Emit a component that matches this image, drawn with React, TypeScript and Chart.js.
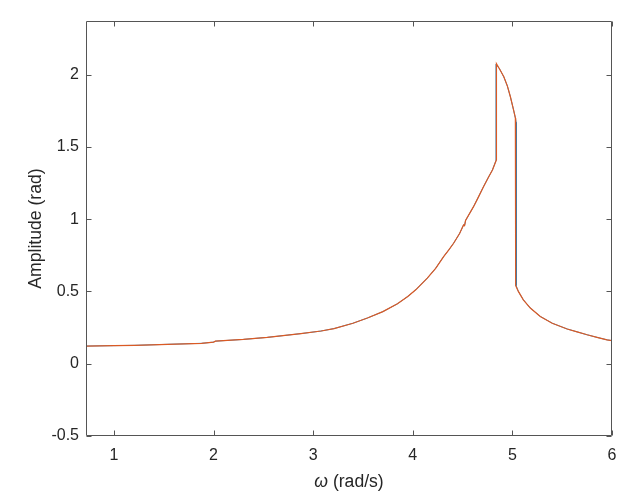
import React, { useEffect, useRef } from "react";
import { Chart, registerables } from "chart.js";

Chart.register(...registerables);

// Blue series (sweep 1)
const omegaBlue = [
  0.72, 1.0, 1.21, 1.54, 1.88, 2.0, 2.02, 2.3, 2.54, 2.877, 3.08, 3.21, 3.4, 3.545, 3.7, 3.846, 3.95,
  4.03, 4.146, 4.23, 4.31, 4.36, 4.41, 4.47, 4.51, 4.52, 4.53, 4.61, 4.65, 4.71, 4.76, 4.8, 4.835,
  4.835, 4.87, 4.914, 4.95, 4.98, 5.01, 5.03, 5.038, 5.038, 5.06, 5.11, 5.18, 5.28, 5.4, 5.55, 5.65,
  5.75, 5.85, 5.95, 6.0,
];
const ampBlue = [
  0.122, 0.125, 0.127, 0.134, 0.141, 0.149, 0.156, 0.168, 0.182, 0.208, 0.226, 0.243, 0.28, 0.316, 0.36,
  0.414, 0.465, 0.511, 0.592, 0.66, 0.741, 0.785, 0.833, 0.9, 0.96, 0.955, 0.99, 1.086, 1.14, 1.224,
  1.29, 1.34, 1.405, 2.07, 2.04, 1.984, 1.92, 1.846, 1.76, 1.7, 1.67, 0.54, 0.5, 0.442, 0.385, 0.327,
  0.28, 0.24, 0.22, 0.2, 0.182, 0.165, 0.159,
];

// Orange series (sweep 2)
const omegaOrange = [
  0.72, 1.0, 1.21, 1.54, 1.88, 2.0, 2.02, 2.3, 2.54, 2.877, 3.08, 3.21, 3.4, 3.545, 3.7, 3.846, 3.95,
  4.03, 4.146, 4.23, 4.31, 4.36, 4.41, 4.47, 4.51, 4.52, 4.53, 4.61, 4.65, 4.71, 4.76, 4.8, 4.84,
  4.84, 4.87, 4.914, 4.95, 4.98, 5.01, 5.03, 5.033, 5.033, 5.06, 5.11, 5.18, 5.28, 5.4, 5.55, 5.65,
  5.75, 5.85, 5.95, 6.0,
];
const ampOrange = [
  0.122, 0.125, 0.127, 0.134, 0.141, 0.149, 0.156, 0.168, 0.182, 0.208, 0.226, 0.243, 0.28, 0.316, 0.36,
  0.414, 0.465, 0.511, 0.592, 0.66, 0.741, 0.785, 0.833, 0.9, 0.96, 0.955, 0.99, 1.086, 1.14, 1.224,
  1.29, 1.34, 1.41, 2.075, 2.04, 1.984, 1.92, 1.846, 1.76, 1.7, 1.68, 0.54, 0.5, 0.442, 0.385, 0.327,
  0.28, 0.24, 0.22, 0.2, 0.182, 0.165, 0.159,
];

const xTicks = [1, 2, 3, 4, 5, 6];
const yTicks = [-0.5, 0, 0.5, 1, 1.5, 2];
const yTickLabels = ["-0.5", "0", "0.5", "1", "1.5", "2"];

const X_MIN = 0.72;
const X_MAX = 6;
const Y_MIN = -0.5;
const Y_MAX = 2.37;

const AXIS_COLOR = "#555555";
const TEXT_COLOR = "#262626";
const FONT = "'Liberation Sans', Arial, Helvetica, sans-serif";
const TICK_SIZE = 16;
const LABEL_SIZE = 17.6;

const boxPlugin = {
  id: "matlabBox",
  afterDraw(chart: any) {
    const { ctx, chartArea } = chart;
    const { left, right, top, bottom } = chartArea;
    const xs = chart.scales.x;
    const ys = chart.scales.y;
    ctx.save();
    ctx.strokeStyle = AXIS_COLOR;
    ctx.lineWidth = 1;
    const l = Math.round(left) + 0.5;
    const r = Math.round(right) - 0.5;
    const t = Math.round(top) + 0.5;
    const b = Math.round(bottom) - 0.5;
    ctx.beginPath();
    ctx.rect(l, t, r - l, b - t);
    ctx.stroke();
    const tl = 5;
    ctx.beginPath();
    xTicks.forEach((v) => {
      const px = Math.round(xs.getPixelForValue(v)) + 0.5;
      ctx.moveTo(px, b);
      ctx.lineTo(px, b - tl);
      ctx.moveTo(px, t);
      ctx.lineTo(px, t + tl);
    });
    yTicks.forEach((v) => {
      const py = Math.round(ys.getPixelForValue(v)) + 0.5;
      ctx.moveTo(l, py);
      ctx.lineTo(l + tl, py);
      ctx.moveTo(r, py);
      ctx.lineTo(r - tl, py);
    });
    ctx.stroke();

    // x-axis title: italic omega + normal text
    const cx = (left + right) / 2;
    const ty = 482;
    ctx.fillStyle = TEXT_COLOR;
    ctx.textBaseline = "middle";
    const f1 = `italic ${LABEL_SIZE}px ${FONT}`;
    const f2 = `${LABEL_SIZE}px ${FONT}`;
    ctx.font = f1;
    const w1 = ctx.measureText("ω").width;
    ctx.font = f2;
    const w2 = ctx.measureText(" (rad/s)").width;
    const start = cx - (w1 + w2) / 2;
    ctx.font = f1;
    ctx.textAlign = "left";
    ctx.fillText("ω", start, ty);
    ctx.font = f2;
    ctx.fillText(" (rad/s)", start + w1, ty);

    // y-axis title
    ctx.translate(36, (top + bottom) / 2);
    ctx.rotate(-Math.PI / 2);
    ctx.textAlign = "center";
    ctx.textBaseline = "middle";
    ctx.font = f2;
    ctx.fillText("Amplitude (rad)", 0, 0);
    ctx.restore();
  },
};

export default function App() {
  const canvasRef = useRef<HTMLCanvasElement | null>(null);

  useEffect(() => {
    if (!canvasRef.current) return;
    const toPts = (xs: number[], ys: number[]) => xs.map((x, i) => ({ x, y: ys[i] }));
    const chart = new Chart(canvasRef.current, {
      type: "line",
      data: {
        datasets: [
          {
            label: "sweep 2",
            data: toPts(omegaOrange, ampOrange),
            borderColor: "#DB5A24",
            borderWidth: 1.2,
            pointRadius: 0,
            fill: false,
            tension: 0,
            order: 0,
          },
          {
            label: "sweep 1",
            data: toPts(omegaBlue, ampBlue),
            borderColor: "#0072BD",
            borderWidth: 0.8,
            pointRadius: 0,
            fill: false,
            tension: 0,
            order: 1,
          },
        ],
      },
      options: {
        animation: false,
        responsive: false,
        maintainAspectRatio: false,
        layout: { padding: { left: 0, top: 21, right: 16, bottom: 0 } },
        plugins: {
          legend: { display: false },
          tooltip: { enabled: false },
        },
        scales: {
          x: {
            type: "linear",
            min: X_MIN,
            max: X_MAX,
            grid: { display: false, drawTicks: false },
            border: { display: false },
            afterBuildTicks: (scale: any) => {
              scale.ticks = xTicks.map((v) => ({ value: v }));
            },
            afterFit: (scale: any) => {
              scale.height = 63;
            },
            ticks: {
              padding: 10,
              color: TEXT_COLOR,
              font: { family: FONT, size: TICK_SIZE },
              maxRotation: 0,
              autoSkip: false,
              callback: (v: any) => String(v),
            },
          },
          y: {
            type: "linear",
            min: Y_MIN,
            max: Y_MAX,
            grid: { display: false, drawTicks: false },
            border: { display: false },
            afterBuildTicks: (scale: any) => {
              scale.ticks = yTicks.map((v) => ({ value: v }));
            },
            afterFit: (scale: any) => {
              scale.width = 86;
            },
            ticks: {
              padding: 7,
              color: TEXT_COLOR,
              font: { family: FONT, size: TICK_SIZE },
              autoSkip: false,
              callback: (v: any) => {
                const i = yTicks.indexOf(Number(v));
                return i >= 0 ? yTickLabels[i] : "";
              },
            },
          },
        },
      },
      plugins: [boxPlugin],
    });
    return () => chart.destroy();
  }, []);

  return (
    <div style={{ position: "absolute", left: 0, top: 0, width: 628, height: 499, background: "#fff" }}>
      <canvas ref={canvasRef} width={628} height={499} />
    </div>
  );
}
